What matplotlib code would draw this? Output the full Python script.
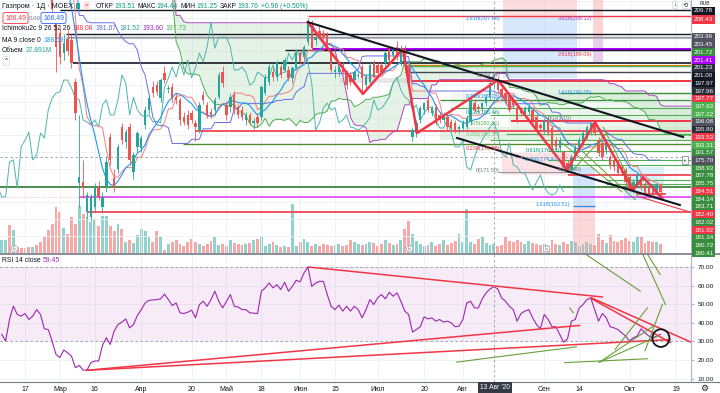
import matplotlib
matplotlib.use('Agg')
import matplotlib.pyplot as plt
import matplotlib.patches as mpatches
import numpy as np
import pandas as pd

plt.rcParams['font.family'] = ['Liberation Sans', 'DejaVu Sans']

W, H = 720, 393

# MOEX trading calendar (2020 holidays removed)
holidays = ['2020-02-24', '2020-03-09', '2020-05-01', '2020-05-11',
            '2020-06-12', '2020-06-24', '2020-07-01']
trade_days = pd.bdate_range('2020-02-07', '2020-10-30')
trade_days = trade_days[~trade_days.isin(pd.to_datetime(holidays))]
zero = trade_days.get_loc(pd.Timestamp('2020-02-17'))

# daily candles, Feb 7 .. Oct 13
opens = [244, 245, 248, 247, 249, 248, 245, 243, 240, 242,
         239, 232, 226, 218, 207.4, 204.3, 199.5, 203.0, 202.6, 192.6,
         168.5, 168.8, 161.7, 160.5, 163.0, 167.6, 163.0, 167.6, 179.5, 169.8,
         172.0, 181.9, 178.3, 181.9, 171.2, 177.2, 176.9, 182.4, 186.0, 191.5,
         192.0, 188.8, 194.8, 191.0, 191.5, 189.0, 188.4, 184.3, 184.8, 185.3,
         182.9, 181.2, 189.5, 187.2, 185.5, 186.0, 189.0, 195.0, 187.2, 186.7,
         189.5, 186.7, 186.0, 183.6, 184.8, 182.9, 184.3, 184.3, 190.0, 192.6,
         195.0, 193.8, 196.2, 195.5, 195.5, 193.6, 196.0, 199.5, 198.6, 202.2,
         206.2, 202.6, 204.9, 204.3, 203.8, 199.5, 195.0, 195.0, 196.7, 194.8,
         194.3, 193.1, 194.0, 196.2, 191.9, 192.6, 197.2, 196.7, 196.7, 197.2,
         200.3, 199.1, 201.0, 197.2, 200.3, 196.2, 179.5, 180.5, 183.6, 186.0,
         188.4, 185.3, 186.7, 184.8, 183.6, 184.3, 183.1, 182.9, 181.5, 181.7,
         181.9, 183.1, 187.6, 186.7, 186.4, 187.6, 189.1, 193.51, 192.6, 191.0,
         190.0, 189.1, 188.4, 186.5, 186.0, 185.3, 185.5, 186.0, 184.3, 182.4,
         181.2, 183.6, 181.7, 178.8, 176.9, 175.9, 173.3, 171.7, 174.8, 176.4,
         178.1, 179.6, 180.7, 182.9, 178.8, 178.1, 176.4, 174.8, 174.1, 173.3,
         172.4, 171.7, 170.0, 166.9, 168.4, 169.3, 168.1, 167.4, 166.9, 166.2,
         168.1]
highs = [246, 249, 252, 253, 254, 250, 247, 245, 243, 244,
         241, 233, 229, 220, 209.0, 205.5, 204.0, 205.0, 204.0, 193.5,
         184.8, 174.0, 166.5, 166.0, 168.5, 169.0, 166.5, 175.0, 180.5, 172.0,
         178.0, 183.0, 181.5, 183.0, 176.0, 181.0, 180.0, 187.0, 189.5, 193.0,
         193.0, 193.5, 196.5, 192.0, 192.5, 190.0, 189.0, 185.5, 186.0, 186.0,
         183.5, 188.0, 190.5, 188.0, 186.5, 189.0, 195.0, 196.5, 188.0, 190.0,
         190.5, 187.5, 187.0, 185.5, 185.5, 184.0, 185.0, 192.0, 194.5, 197.0,
         196.0, 198.0, 197.0, 198.5, 196.5, 196.5, 200.0, 200.5, 201.5, 207.9,
         207.5, 204.0, 206.0, 205.0, 204.5, 200.0, 196.5, 196.8, 197.5, 195.5,
         195.0, 195.5, 195.0, 197.0, 194.5, 197.5, 198.0, 197.5, 197.5, 200.0,
         201.0, 200.8, 202.5, 201.5, 201.5, 197.0, 182.0, 183.5, 187.0, 188.0,
         189.0, 187.0, 187.5, 185.5, 185.5, 185.0, 183.8, 183.5, 182.5, 183.5,
         184.8, 189.0, 188.5, 187.5, 188.0, 189.5, 193.0, 194.44, 193.8, 192.0,
         190.8, 190.0, 189.0, 187.0, 186.8, 187.0, 187.5, 186.8, 185.0, 183.0,
         184.0, 184.5, 182.5, 179.5, 179.5, 176.5, 174.0, 175.5, 177.8, 179.5,
         181.0, 182.5, 183.1, 183.1, 179.5, 178.8, 178.8, 175.5, 174.8, 174.0,
         173.0, 172.3, 170.6, 169.5, 171.0, 170.0, 168.8, 168.0, 167.5, 168.6,
         168.6]
lows = [242, 244, 246, 245, 247, 244, 242, 238, 237, 238,
        234, 224, 220, 208, 195.0, 197.0, 198.0, 199.0, 196.0, 183.6,
        163.0, 165.0, 160.0, 159.5, 162.0, 164.5, 161.5, 166.5, 173.0, 166.5,
        171.0, 178.0, 177.0, 173.0, 169.5, 176.0, 176.0, 181.5, 185.0, 189.0,
        189.5, 188.0, 192.5, 190.0, 188.0, 187.5, 182.5, 182.5, 181.5, 183.0,
        178.5, 180.5, 187.5, 184.0, 184.0, 185.0, 188.5, 191.5, 183.5, 185.5,
        185.0, 184.0, 183.5, 182.5, 182.5, 181.5, 182.0, 183.5, 189.5, 192.0,
        193.0, 193.0, 193.5, 195.0, 193.0, 192.5, 195.5, 197.0, 198.0, 201.5,
        200.0, 201.5, 203.0, 202.5, 200.5, 195.0, 193.5, 194.0, 194.5, 191.0,
        192.0, 192.5, 193.5, 189.8, 191.0, 192.0, 193.5, 194.0, 194.5, 196.5,
        197.5, 198.5, 198.0, 196.5, 196.5, 191.5, 178.5, 179.5, 183.0, 185.0,
        185.5, 184.5, 182.5, 183.0, 183.0, 181.0, 181.0, 180.5, 180.5, 181.0,
        181.5, 182.5, 185.5, 185.5, 185.8, 187.0, 188.5, 191.25, 190.0, 188.5,
        187.5, 185.5, 186.5, 183.0, 184.5, 184.5, 185.0, 183.0, 181.0, 181.0,
        180.5, 180.0, 176.5, 176.5, 176.0, 172.0, 171.3, 171.3, 174.0, 176.0,
        177.5, 179.0, 180.0, 180.0, 175.0, 174.0, 175.5, 172.0, 171.5, 170.5,
        170.5, 168.0, 166.5, 166.3, 168.0, 167.0, 165.8, 165.0, 165.5, 165.8,
        165.0]
closes = [245, 248, 247, 249, 248, 245, 243, 240, 242, 239,
          236, 226, 222, 210, 201.0, 198.6, 201.9, 200.0, 197.2, 185.3,
          170.0, 167.4, 165.8, 165.3, 167.6, 165.3, 165.3, 173.6, 174.1, 167.4,
          177.2, 178.8, 180.7, 174.1, 175.3, 180.5, 179.3, 186.0, 188.8, 190.0,
          190.3, 193.1, 193.1, 191.2, 188.8, 188.4, 183.6, 183.1, 182.4, 183.6,
          181.9, 187.2, 188.4, 184.8, 184.8, 188.4, 194.3, 192.5, 184.8, 189.0,
          186.0, 184.8, 184.3, 184.8, 183.1, 183.3, 182.9, 191.4, 193.6, 196.2,
          193.8, 197.4, 194.3, 197.9, 193.6, 196.0, 199.5, 197.4, 201.0, 206.9,
          200.7, 203.3, 203.3, 203.3, 201.0, 195.5, 195.5, 196.2, 195.0, 191.9,
          192.6, 195.0, 194.4, 193.6, 193.8, 196.7, 193.8, 194.8, 195.0, 199.5,
          197.9, 200.3, 198.6, 200.7, 197.2, 192.4, 181.2, 182.9, 186.5, 187.6,
          186.0, 186.5, 182.9, 183.6, 184.8, 181.9, 181.7, 181.2, 181.9, 182.9,
          184.1, 188.4, 186.0, 186.4, 187.6, 189.1, 192.4, 193.76, 190.7, 189.1,
          188.4, 186.0, 187.2, 183.6, 185.3, 186.5, 186.7, 183.6, 181.7, 181.7,
          183.6, 180.5, 177.2, 177.2, 178.8, 172.4, 171.7, 174.8, 177.2, 178.8,
          180.5, 181.9, 182.9, 180.5, 175.7, 174.8, 178.1, 172.9, 172.4, 171.0,
          171.0, 168.8, 166.9, 168.8, 170.5, 167.6, 166.2, 165.7, 166.2, 168.1,
          166.49]
volumes = [53, 53, 110, 91, 27, 23, 23, 27, 27, 34,
           46, 65, 91, 114, 179, 160, 99, 76, 141, 114,
           182, 152, 141, 122, 133, 106, 144, 144, 106, 87,
           114, 95, 46, 53, 42, 72, 95, 87, 65, 46,
           87, 68, 15, 38, 46, 53, 38, 30, 46, 57,
           46, 38, 30, 38, 49, 65, 34, 38, 30, 53,
           42, 38, 34, 38, 42, 53, 57, 68, 30, 38,
           46, 34, 27, 30, 27, 190, 30, 46, 57, 46,
           30, 38, 30, 38, 34, 30, 34, 38, 30, 34,
           53, 46, 38, 34, 38, 46, 42, 30, 38, 53,
           42, 34, 38, 53, 95, 125, 76, 49, 38, 30,
           34, 46, 30, 38, 53, 34, 42, 49, 76, 46,
           171, 46, 38, 57, 68, 42, 34, 38, 30, 34,
           65, 49, 46, 53, 46, 38, 49, 42, 38, 34,
           38, 30, 53, 38, 34, 46, 38, 49, 46, 30,
           38, 46, 38, 34, 76, 53, 42, 72, 49, 46,
           53, 61, 49, 46, 68, 65, 42, 49, 46, 46,
           38]
rsi = [33.8, 30.2, 41.8, 49.0, 44.5, 43.6, 45.0, 41.8, 43.6, 47.1,
       44.5, 36.8, 36.4, 30.2, 23.0, 21.3, 25.4, 23.9, 22.1, 15.9,
       17.1, 14.6, 14.6, 18.6, 19.5, 19.5, 27.9, 32.0, 28.4, 35.5,
       39.1, 40.4, 42.1, 37.3, 39.1, 43.9, 47.1, 50.7, 52.1, 52.3,
       52.5, 52.9, 55.4, 52.5, 49.3, 50.7, 45.4, 45.0, 45.7, 46.8,
       42.7, 49.8, 51.6, 48.9, 52.5, 57.0, 51.6, 48.0, 51.6, 55.2,
       48.9, 48.5, 47.1, 47.1, 45.4, 45.2, 45.0, 57.0, 58.8, 61.4,
       58.8, 60.5, 57.9, 61.8, 57.0, 59.6, 62.9, 62.0, 66.8, 70.0,
       59.6, 61.4, 62.3, 62.3, 55.2, 48.9, 47.1, 49.5, 46.3, 48.9,
       46.3, 48.9, 47.1, 42.7, 47.1, 52.5, 49.8, 53.4, 55.2, 52.9,
       56.4, 54.3, 56.1, 51.6, 46.3, 44.5, 35.0, 36.4, 37.9, 43.2,
       42.1, 42.7, 40.9, 41.8, 40.4, 40.9, 40.0, 37.9, 38.2, 41.8,
       50.7, 51.6, 48.0, 48.0, 52.9, 56.1, 58.2, 59.45, 58.2, 53.4,
       51.6, 48.9, 47.1, 40.9, 45.0, 46.3, 47.1, 42.7, 39.1, 36.8,
       44.5, 41.8, 37.9, 37.9, 33.8, 29.6, 31.4, 40.9, 41.8, 48.0,
       49.8, 52.5, 53.4, 47.1, 40.9, 45.0, 42.7, 37.9, 37.3, 36.4,
       34.6, 32.9, 30.2, 32.0, 32.9, 36.8, 34.6, 32.9, 32.0, 32.9,
       33.8]

for arr in (highs, lows, closes, volumes, rsi):
    assert len(arr) == len(opens), len(arr)

tick_dates = ['2020-02-17', '2020-03-02', '2020-03-16', '2020-04-01', '2020-04-20',
              '2020-05-04', '2020-05-18', '2020-06-01', '2020-06-15', '2020-07-02',
              '2020-07-20', '2020-08-03', '2020-09-01', '2020-09-14', '2020-10-01',
              '2020-10-19']
tick_labels = ['17', 'Мар', '16', 'Апр', '20', 'Май', '18', 'Июн', '15', 'Июл',
               '20', 'Авг', 'Сен', '14', 'Окт', '19']

# drawings: horizontal levels (price, from, to, colour, width)
levels = [
    (209.78, 9.0, None, '#131722', 1.0),
    (208.43, 73.0, None, '#f23645', 1.0),
    (203.99, 10.5, None, '#131722', 1.0),
    (203.45, 10.5, None, '#9598a1', 1.0),
    (203.05, 10.5, None, '#b2b5be', 0.8),
    (200.60, 74.0, None, '#aa00ff', 2.2),
    (200.26, 67.0, None, '#131722', 1.0),
    (197.17, 12.4, None, '#131722', 1.2),
    (196.70, 98.0, None, '#f57c00', 0.9),
    (196.40, 98.0, None, '#4caf50', 1.0),
    (195.00, 98.0, None, '#434651', 1.0),
    (192.88, 99.5, None, '#f23645', 1.4),
    (190.02, 138.0, None, '#388e3c', 1.0),
    (188.35, 107.0, None, '#388e3c', 0.9),
    (186.45, 110.0, None, '#4caf50', 0.8),
    (184.80, 120.0, None, '#4caf50', 0.8),
    (183.36, 125.5, None, '#f23645', 1.4),
    (180.98, 44.0, None, '#f23645', 1.2),
    (180.26, 124.0, None, '#4caf50', 0.8),
    (178.83, 120.0, None, '#4caf50', 0.8),
    (177.88, 40.8, None, '#558b2f', 1.0),
    (176.20, 135.0, None, '#4caf50', 0.8),
    (174.10, 135.0, None, '#4caf50', 0.8),
    (172.90, 140.0, None, '#4caf50', 0.8),
    (171.21, 122.0, 142.0, '#9598a1', 0.8),
    (170.40, 140.0, None, '#f23645', 1.2),
    (169.20, 150.0, None, '#4caf50', 0.8),
    (168.40, 150.0, None, '#4caf50', 0.8),
    (167.64, -7.0, None, '#2e7d32', 1.2),
    (166.00, 158.0, 165.5, '#f23645', 1.2),
    (165.26, 14.0, None, '#e040fb', 1.2),
    (161.69, 16.0, None, '#f23645', 1.2),
    (163.10, 141.4, 147.0, '#2196f3', 1.0),
]
# fib / date-range boxes (x0, x1, p0, p1, colour, alpha)
boxes = [
    (123.4, 142.5, 207.88, 213.0, '#f7a1a6', 0.35),
    (123.4, 142.5, 193.60, 207.88, '#90bff9', 0.35),
    (146.6, 149.2, 203.40, 213.0, '#f7a1a6', 0.45),
    (146.6, 149.2, 197.50, 203.40, '#ce93d8', 0.45),
    (123.1, 141.4, 170.50, 175.70, '#f7a1a6', 0.30),
    (141.4, 147.1, 163.40, 172.40, '#90bff9', 0.40),
    (141.4, 147.1, 150.00, 163.40, '#f7a1a6', 0.40),
    (107.0, 172.0, 178.80, 181.90, '#a5d6a7', 0.30),
    (125.0, 172.0, 181.90, 186.50, '#a5d6a7', 0.20),
    (110.0, 172.0, 186.50, 190.00, '#a5d6a7', 0.15),
    (81.0, 99.0, 192.40, 193.60, '#b2b5be', 0.30),
    (154.5, 165.0, 164.60, 172.40, '#b3e5fc', 0.50),
]
fib_texts = [
    (122.6, 207.88, '1.618(207.88)', '#2196f3'),
    (146.4, 207.88, '3.618(208.12)', '#ab47bc'),
    (146.4, 199.09, '2.618(199.09)', '#f23645'),
    (146.4, 190.05, '1.618(190.05)', '#2196f3'),
    (122.6, 194.12, '1(194.12)', '#787b86'),
    (122.6, 189.28, '0.786(189.28)', '#2196f3'),
    (122.6, 185.46, '0.618(185.46)', '#089981'),
    (122.6, 182.81, '0.5(182.81)', '#4caf50'),
    (122.6, 180.15, '0.382(180.15)', '#81c784'),
    (122.6, 176.88, '0.236(176.88)', '#f23645'),
    (122.6, 171.50, '0(171.50)', '#787b86'),
    (141.0, 183.90, '0(183.10)', '#787b86'),
    (138.0, 176.35, '0.618(176.35)', '#089981'),
    (138.0, 174.20, '0.786(174.47)', '#2196f3'),
    (143.5, 171.70, '1(171.90)', '#787b86'),
    (140.6, 163.51, '1.618(163.51)', '#2196f3'),
]
zigzag_x = [73.0, 87.2, 97.5, 101.2, 122.1, 139.9, 147.1, 156.9, 159.5, 164.4]
zigzag_p = [206.9, 189.8, 200.5, 180.5, 193.1, 171.7, 183.1, 166.9, 170.0, 165.0]
trend_black = [((73.0, 206.9), (169.8, 179.55)), ((111.5, 179.31), (169.0, 163.36))]
trend_green = [((138.6, 178.12), (154.1, 166.45)), ((149.2, 181.93), (158.2, 165.26)),
               ((141.4, 171.69), (150.2, 180.5)), ((144.0, 176.0), (157.5, 164.6))]
rsi_red = [((16.0, 14.5), (166.5, 31.0)), ((16.0, 14.5), (143.1, 38.6)),
           ((73.2, 70.0), (149.0, 53.9)), ((146.2, 53.4), (171.9, 29.6)),
           ((146.2, 53.0), (166.5, 29.5))]
rsi_green = [((111.4, 18.9), (142.3, 27.1)), ((139.3, 18.6), (160.6, 20.7)),
             ((144.6, 77.0), (158.8, 57.0)), ((159.4, 77.0), (165.3, 49.8)),
             ((160.6, 77.0), (163.9, 66.0)), ((152.3, 25.7), (160.6, 48.0)),
             ((148.2, 18.8), (162.0, 38.0)), ((148.2, 18.8), (163.5, 33.0)),
             ((160.0, 25.0), (164.5, 50.0)), ((140.6, 48.0), (141.5, 45.4))]

# stacked price-scale labels; None marks a slot hidden under the crosshair label
right_labels = ['203.99', '203.45', '201.72', '201.41', '201.23', '201.00', '197.97',
                '197.96', '197.77', '197.63', '197.22', '196.08', '195.80', '193.53',
                '193.31', '191.57', None, '188.93', '187.78', '185.75', '184.51',
                '184.14', '183.71', '182.40', '182.02', '181.92', '181.34', '180.72',
                '180.41']
right_colors = ['#50535e', '#50535e', '#388e3c', '#aa00ff', '#2a2e39', '#131722', '#131722',
                '#2a2e39', '#f23645', '#4caf50', '#4caf50', '#50535e', '#2a2e39', '#f23645',
                '#4caf50', '#388e3c', '#388e3c', '#388e3c', '#388e3c', '#388e3c', '#f23645',
                '#388e3c', '#388e3c', '#f23645', '#388e3c', '#f23645', '#388e3c', '#388e3c',
                '#388e3c']

UP, DOWN = '#26a69a', '#ef5350'

o = np.array(opens, float); h = np.array(highs, float)
l = np.array(lows, float); c = np.array(closes, float)
n = len(c)
x = np.arange(n) - zero
XMIN, XMAX = -6.45, 171.87

# indicators
hi, lo, cl = pd.Series(h), pd.Series(l), pd.Series(c)
tenkan = (hi.rolling(9, min_periods=1).max() + lo.rolling(9, min_periods=1).min()) / 2
kijun = (hi.rolling(26, min_periods=1).max() + lo.rolling(26, min_periods=1).min()) / 2
span_a = (tenkan + kijun) / 2
span_b = (hi.rolling(52, min_periods=1).max() + lo.rolling(52, min_periods=1).min()) / 2
ma9 = cl.rolling(9).mean()

fig = plt.figure(figsize=(W / 100, H / 100), dpi=100)
ax = fig.add_axes([0, 1 - 254 / H, 691 / W, 254 / H])
ax2 = fig.add_axes([0, 1 - 382 / H, 691 / W, 128 / H])

# volume underneath
axv = ax.twinx()
up = c >= o
col = np.where(up, UP, DOWN)
axv.bar(x, volumes, width=0.72, color=col, alpha=0.5, lw=0)
axv.set_ylim(0, 965)
axv.axis('off')
ax.set_zorder(axv.get_zorder() + 1)
ax.patch.set_visible(False)

for a in (ax, ax2):
    a.set_xlim(XMIN, XMAX)
    for s in ('top', 'left', 'bottom'):
        a.spines[s].set_visible(False)
    a.spines['right'].set_color('#b2b5be')
    a.spines['right'].set_linewidth(0.8)

ax.set_ylim(151.69, 212.17)
ax.set_yticks(np.arange(152, 213, 4))
ax.tick_params(axis='y', length=0, labelright=False, labelleft=False)
ax.tick_params(axis='x', length=0, labelbottom=False)
tick_pos = [trade_days.get_loc(pd.Timestamp(d)) - zero for d in tick_dates]
for a in (ax, ax2):
    a.set_xticks(tick_pos)
    a.grid(True, color='#eef0f5', lw=0.6)
    a.set_axisbelow(True)

# boxes and levels
for x0, x1, p0, p1, cc, al in boxes:
    ax.add_patch(mpatches.Rectangle((x0, p0), x1 - x0, p1 - p0, color=cc, alpha=al, lw=0, zorder=1))
for p, x0, x1, cc, lw in levels:
    ax.hlines(p, x0, XMAX if x1 is None else x1, color=cc, lw=lw, zorder=2)
ax.hlines(165.26, XMIN, 14.0, color='#f8bbd0', lw=0.8, linestyles=':', zorder=2)

# ichimoku
shift = 25
ax.fill_between(x + shift, span_a, span_b, color='#a5d6a7', alpha=0.28, lw=0, zorder=1.5)
ax.plot(x + shift, span_a, color='#4caf50', lw=0.7, zorder=3)
ax.plot(x + shift, span_b, color='#ab47bc', lw=0.7, zorder=3)
ax.plot(x - shift, c, color='#4db6ac', lw=0.7, zorder=3)
ax.plot(x, tenkan, color='#f77c80', lw=0.7, zorder=3)
ax.plot(x, kijun, color='#6a6ee8', lw=0.7, zorder=3)
ax.plot(x, ma9, color='#2196f3', lw=0.8, zorder=3)

# candles
ax.vlines(x, l, h, color=col, lw=0.6, zorder=4)
ax.bar(x, np.maximum(np.abs(c - o), 0.15), bottom=np.minimum(o, c), width=0.62,
       color=col, lw=0, zorder=4)

# trend drawings
ax.plot(zigzag_x, zigzag_p, color='#f23645', lw=1.8, zorder=6)
for (xa, pa), (xb, pb) in trend_black:
    ax.plot([xa, xb], [pa, pb], color='#131722', lw=1.5, zorder=6)
for (xa, pa), (xb, pb) in trend_green:
    ax.plot([xa, xb], [pa, pb], color='#689f38', lw=0.7, zorder=5)
ax.plot([158.7, 171.6], [165.26, 161.69], color='#f23645', lw=0.8, zorder=5)
for xx, pp, tt, cc in fib_texts:
    ax.text(xx, pp, tt, color=cc, fontsize=4.0, ha='right', va='center', zorder=7)

# crosshair
ax.axvline(121, color='#9598a1', lw=0.6, ls=(0, (3, 3)), zorder=7)
ax.axhline(174.8, color='#9598a1', lw=0.6, ls=(0, (3, 3)), zorder=7)
ax2.axvline(121, color='#9598a1', lw=0.6, ls=(0, (3, 3)), zorder=7)

# earnings markers on the volume baseline
for ex in (-2.8, 99.1, 134.5):
    ax.scatter([ex], [153.0], s=22, facecolor='white', edgecolor='#b2b5be', lw=0.6, zorder=8)
    ax.text(ex, 153.0, 'E', fontsize=3.5, color='#787b86', ha='center', va='center', zorder=9)

# RSI pane
ax2.set_ylim(8.2, 77.0)
ax2.axhspan(30, 70, color='#9c27b0', alpha=0.09, lw=0)
ax2.axhline(70, color='#9598a1', lw=0.6, ls=(0, (3, 3)))
ax2.axhline(30, color='#9598a1', lw=0.6, ls=(0, (3, 3)))
ax2.plot(x, rsi, color='#9c27b0', lw=0.8, zorder=4)
for (xa, va_), (xb, vb) in rsi_red:
    ax2.plot([xa, xb], [va_, vb], color='#f23645', lw=1.1, zorder=5)
for (xa, va_), (xb, vb) in rsi_green:
    ax2.plot([xa, xb], [va_, vb], color='#689f38', lw=0.8, zorder=5)
ax2.add_patch(mpatches.Ellipse((164.1, 31.8), 4.4, 9.5, fill=False, ec='#131722', lw=1.3, zorder=6))
ax2.yaxis.tick_right()
ax2.set_yticks([10, 20, 30, 40, 50, 60, 70])
ax2.set_yticklabels(['%.2f' % v for v in [10, 20, 30, 40, 50, 60, 70]])
ax2.tick_params(axis='y', length=2, color='#b2b5be', labelsize=4.6, labelcolor='#131722', pad=3)
ax2.set_xticklabels(tick_labels)
ax2.tick_params(axis='x', length=0, labelsize=5, labelcolor='#131722', pad=3)

# pane separators
fig.add_artist(plt.Line2D([0, 1], [1 - 254 / H, 1 - 254 / H], color='#787b86', lw=1.2))
fig.add_artist(plt.Line2D([0, 1], [1 - 382 / H, 1 - 382 / H], color='#787b86', lw=0.8))

renderer = fig.canvas.get_renderer()


def ftxt(px, py, s, **kw):
    kw.setdefault('va', 'center')
    kw.setdefault('fontsize', 5.0)
    return fig.text(px / W, 1 - py / H, s, **kw)


def row(px, py, parts, gap=2.5, **kw):
    # place text pieces one after another, measuring each
    for s, cc, g in parts:
        t = ftxt(px, py, s, color=cc, **kw)
        px += t.get_window_extent(renderer).width + (gap if g else 0.6)
    return px


# right-hand stacked level labels
lab_kw = dict(fontsize=4.5, color='white', ha='left')
ftxt(694, 11, '209.78', bbox=dict(boxstyle='square,pad=0.25', fc='#131722', ec='none'), **lab_kw)
ftxt(694, 19.5, '208.43', bbox=dict(boxstyle='square,pad=0.25', fc='#f23645', ec='none'), **lab_kw)
for k, (tt, cc) in enumerate(zip(right_labels, right_colors)):
    if tt is None:
        continue
    ftxt(694, 37 + 7.72 * k, tt, bbox=dict(boxstyle='square,pad=0.25', fc=cc, ec='none'), **lab_kw)
ftxt(694, 160.2, '175.70', bbox=dict(boxstyle='square,pad=0.3', fc='#50535e', ec='none'), **lab_kw)
ftxt(683, 160.2, '+', fontsize=4.5, color='#131722',
     bbox=dict(boxstyle='square,pad=0.2', fc='white', ec='#787b86', lw=0.5))
ftxt(673, 4.5, '↓', fontsize=4.5, color='#131722',
     bbox=dict(boxstyle='square,pad=0.2', fc='white', ec='#d1d4dc', lw=0.5))
ftxt(683, 4.5, '⟲', fontsize=4.5, color='#131722',
     bbox=dict(boxstyle='square,pad=0.2', fc='white', ec='#d1d4dc', lw=0.5))
ftxt(700, 3.5, 'RUB', fontsize=3.6, color='#131722')
ftxt(704, 388, '⚙', fontsize=6.5, color='#131722', ha='center')
ftxt(495, 387.5, "13 Авг '20", fontsize=4.8, color='white', ha='center',
     bbox=dict(boxstyle='square,pad=0.3', fc='#363a45', ec='none'))

# top-left legend
DK = '#131722'
GR = '#089981'
end = row(2, 6, [('Газпром · 1Д · MOEX', DK, True)], fontsize=5.2)
ftxt(end + 2, 6, ' ', fontsize=3, bbox=dict(boxstyle='square,pad=0.35', fc='#26a69a', ec='none'))
ftxt(end + 9, 6, '=', fontsize=4.5, color='#f23645',
     bbox=dict(boxstyle='round,pad=0.2', fc='#fde0e3', ec='none'))
row(end + 20, 6, [('ОТКР', DK, False), ('193.51', GR, True), ('МАКС', DK, False), ('194.44', GR, True),
                  ('МИН', DK, False), ('191.25', GR, True), ('ЗАКР', DK, False), ('193.76', GR, True),
                  ('+0.96 (+0.50%)', GR, True)], fontsize=4.9)
ftxt(5, 18, '166.49', color='#f23645', fontsize=4.9,
     bbox=dict(boxstyle='round,pad=0.3', fc='white', ec='#f23645', lw=0.6))
ftxt(29, 18, '0.00', color='#787b86', fontsize=4.4)
ftxt(43, 18, '166.49', color='#2962ff', fontsize=4.9,
     bbox=dict(boxstyle='round,pad=0.3', fc='white', ec='#2962ff', lw=0.6))
row(2, 29, [('Ichimoku2c 9 26 52 26', DK, True), ('188.08', '#f23645', True),
            ('191.07', '#5b5bd6', True), ('181.52', '#26a69a', True),
            ('193.60', '#9c27b0', True), ('197.73', '#4caf50', True)], fontsize=4.9)
row(2, 40, [('MA 9 close 0', DK, True), ('188.59', '#2196f3', True)], fontsize=4.9)
row(2, 51, [('Объем', DK, True), ('37.891M', '#26a69a', True)], fontsize=4.9)
ftxt(5, 61, '^', fontsize=4.5, color=DK,
     bbox=dict(boxstyle='round,pad=0.3', fc='white', ec='#d1d4dc', lw=0.5))
row(2, 261, [('RSI 14 close', DK, True), ('59.45', '#9c27b0', True)], fontsize=4.9)

fig.savefig('out.png', dpi=100, facecolor='white')
